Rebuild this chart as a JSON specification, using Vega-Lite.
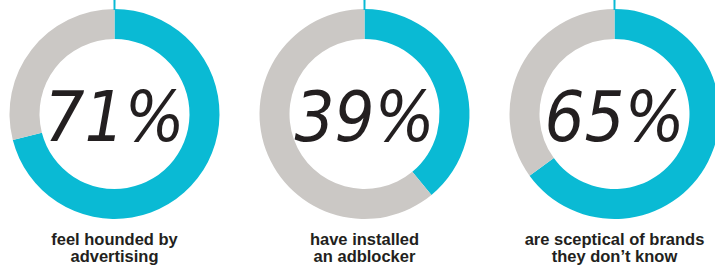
{
  "$schema": "https://vega.github.io/schema/vega-lite/v6.json",
  "padding": 0,
  "background": "white",
  "spacing": 21,
  "config": {"view": {"stroke": null}},
  "data": {
    "values": [
      {"panel": "a", "part": "yes", "value": 71, "ord": 1, "pct": "71%"},
      {"panel": "a", "part": "no", "value": 29, "ord": 2, "pct": "71%"},
      {"panel": "b", "part": "yes", "value": 39, "ord": 1, "pct": "39%"},
      {"panel": "b", "part": "no", "value": 61, "ord": 2, "pct": "39%"},
      {"panel": "c", "part": "yes", "value": 65, "ord": 1, "pct": "65%"},
      {"panel": "c", "part": "no", "value": 35, "ord": 2, "pct": "65%"}
    ]
  },
  "hconcat": [
    {
      "width": 229, "height": 226,
      "title": {"text": ["feel hounded by", "advertising"], "orient": "bottom", "anchor": "middle", "font": "Liberation Sans", "fontSize": 16.5, "fontWeight": "bold", "color": "#231f20", "lineHeight": 16.5, "baseline": "alphabetic", "offset": 18},
      "transform": [{"filter": "datum.panel == 'a'"}],
      "layer": [
        {"mark": {"type": "arc", "innerRadius": 75, "outerRadius": 105},
         "encoding": {
           "theta": {"field": "value", "type": "quantitative", "stack": true},
           "color": {"field": "part", "type": "nominal", "scale": {"domain": ["yes", "no"], "range": ["#0abad4", "#cbc8c5"]}, "legend": null},
           "order": {"field": "ord", "type": "quantitative"}}},
        {"transform": [{"filter": "datum.part == 'yes'"}],
         "mark": {"type": "arc", "innerRadius": 104, "outerRadius": 114, "theta": -0.009, "theta2": 0.009, "color": "#0abad4"},
         "encoding": {}},
        {"transform": [{"filter": "datum.part == 'yes'"}],
         "mark": {"type": "text", "font": "DejaVu Sans Condensed", "fontStyle": "italic", "fontSize": 70, "color": "#231f20", "align": "center", "baseline": "alphabetic", "dy": 27},
         "encoding": {"text": {"field": "pct"}}}
      ]
    },
    {
      "width": 229, "height": 226,
      "title": {"text": ["have installed", "an adblocker"], "orient": "bottom", "anchor": "middle", "font": "Liberation Sans", "fontSize": 16.5, "fontWeight": "bold", "color": "#231f20", "lineHeight": 16.5, "baseline": "alphabetic", "offset": 18},
      "transform": [{"filter": "datum.panel == 'b'"}],
      "layer": [
        {"mark": {"type": "arc", "innerRadius": 75, "outerRadius": 105},
         "encoding": {
           "theta": {"field": "value", "type": "quantitative", "stack": true},
           "color": {"field": "part", "type": "nominal", "scale": {"domain": ["yes", "no"], "range": ["#0abad4", "#cbc8c5"]}, "legend": null},
           "order": {"field": "ord", "type": "quantitative"}}},
        {"transform": [{"filter": "datum.part == 'yes'"}],
         "mark": {"type": "arc", "innerRadius": 104, "outerRadius": 114, "theta": -0.009, "theta2": 0.009, "color": "#0abad4"},
         "encoding": {}},
        {"transform": [{"filter": "datum.part == 'yes'"}],
         "mark": {"type": "text", "font": "DejaVu Sans Condensed", "fontStyle": "italic", "fontSize": 70, "color": "#231f20", "align": "center", "baseline": "alphabetic", "dy": 27},
         "encoding": {"text": {"field": "pct"}}}
      ]
    },
    {
      "width": 229, "height": 226,
      "title": {"text": ["are sceptical of brands", "they don’t know"], "orient": "bottom", "anchor": "middle", "font": "Liberation Sans", "fontSize": 16.5, "fontWeight": "bold", "color": "#231f20", "lineHeight": 16.5, "baseline": "alphabetic", "offset": 18},
      "transform": [{"filter": "datum.panel == 'c'"}],
      "layer": [
        {"mark": {"type": "arc", "innerRadius": 75, "outerRadius": 105},
         "encoding": {
           "theta": {"field": "value", "type": "quantitative", "stack": true},
           "color": {"field": "part", "type": "nominal", "scale": {"domain": ["yes", "no"], "range": ["#0abad4", "#cbc8c5"]}, "legend": null},
           "order": {"field": "ord", "type": "quantitative"}}},
        {"transform": [{"filter": "datum.part == 'yes'"}],
         "mark": {"type": "arc", "innerRadius": 104, "outerRadius": 114, "theta": -0.009, "theta2": 0.009, "color": "#0abad4"},
         "encoding": {}},
        {"transform": [{"filter": "datum.part == 'yes'"}],
         "mark": {"type": "text", "font": "DejaVu Sans Condensed", "fontStyle": "italic", "fontSize": 70, "color": "#231f20", "align": "center", "baseline": "alphabetic", "dy": 27},
         "encoding": {"text": {"field": "pct"}}}
      ]
    }
  ]
}
